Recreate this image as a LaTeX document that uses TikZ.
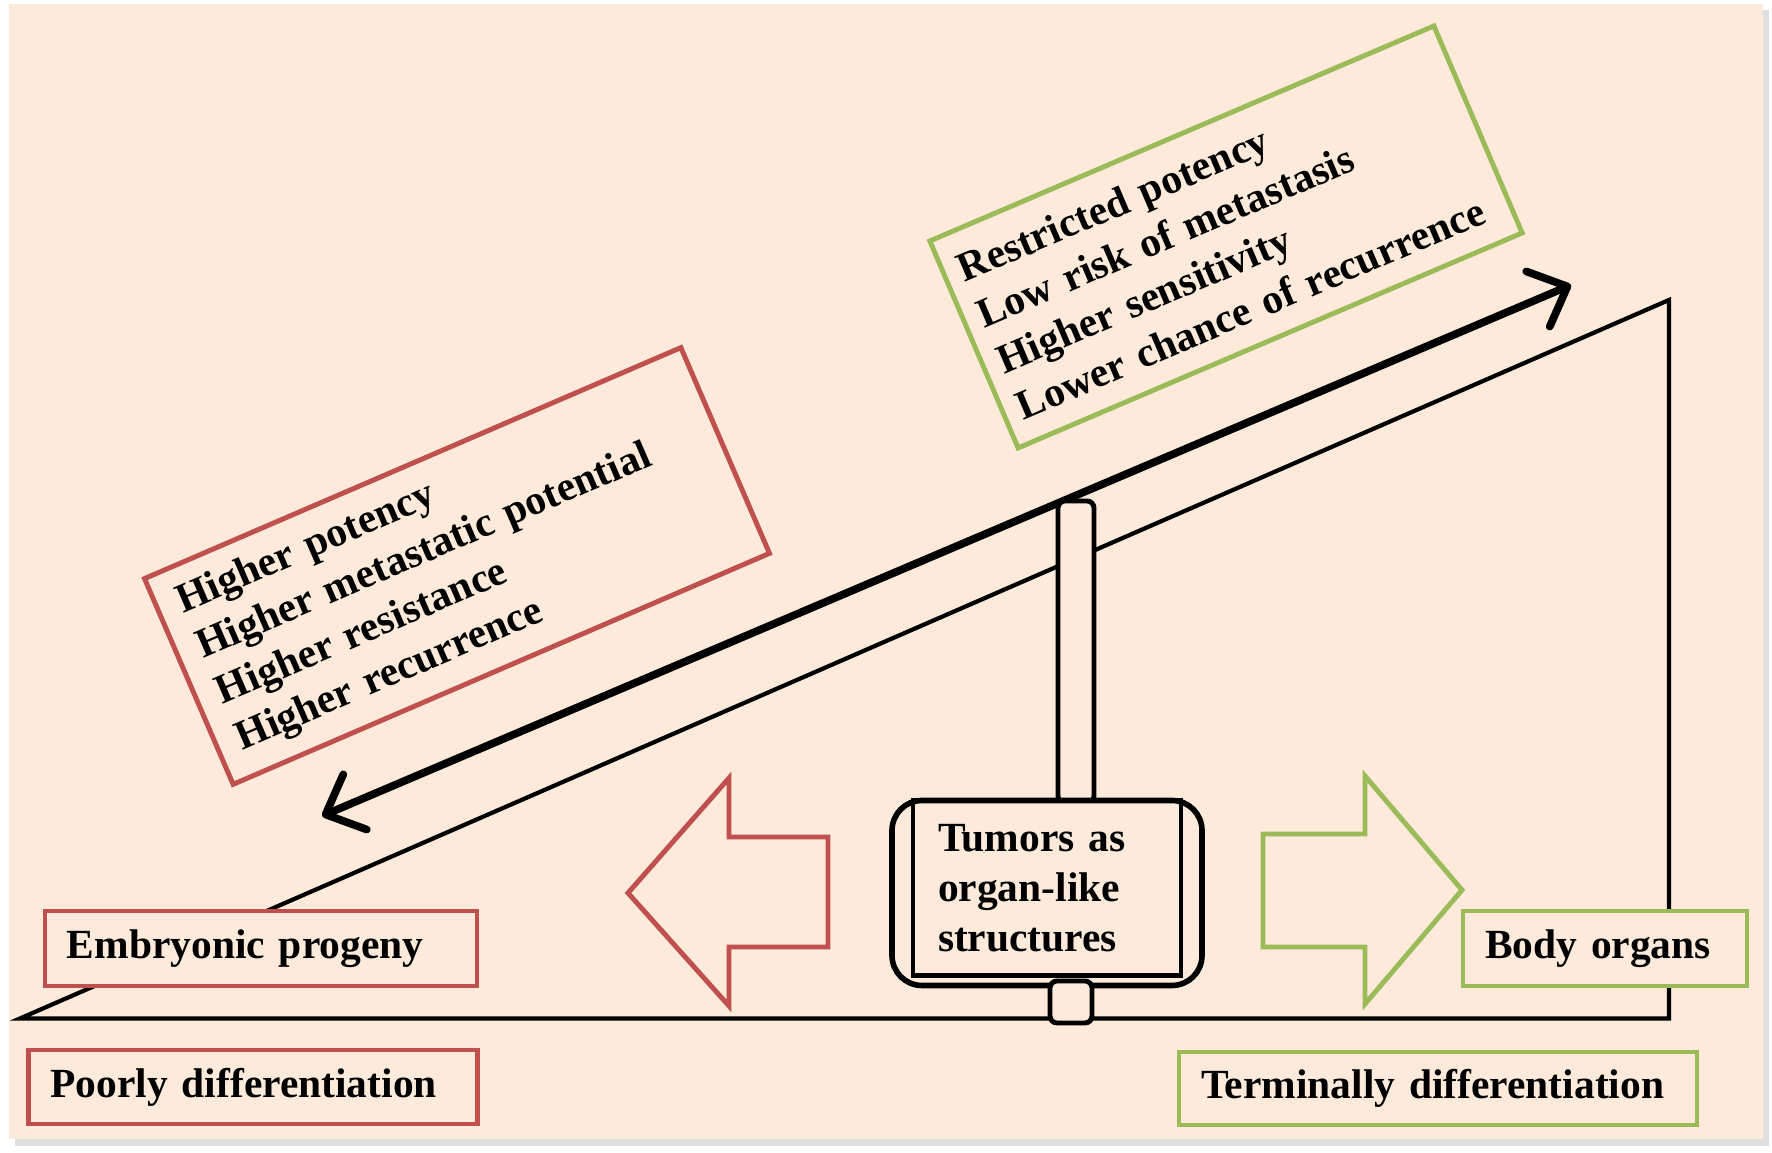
\documentclass[tikz,border=0pt]{standalone}
\usepackage{fontspec}
\setmainfont{Liberation Serif}
\usepackage{xcolor}
\usetikzlibrary{arrows.meta}
\definecolor{peach}{RGB}{253,234,218}
\definecolor{boxred}{RGB}{192,80,77}
\definecolor{boxgreen}{RGB}{155,187,89}

\begin{document}
\begin{tikzpicture}
\tikzstyle{every node}=[font=\fontsize{11.8}{14.2}\selectfont\bfseries]
\tikzstyle{redbox}=[draw=boxred,line width=1.4pt,fill=peach,align=left,inner xsep=0.22cm]
\tikzstyle{greenbox}=[draw=boxgreen,line width=1.4pt,fill=peach,align=left,inner xsep=0.22cm]
\tikzstyle{part}=[draw,line width=1.4pt,fill=peach]
\useasboundingbox (0,0) rectangle (17.72,11.53);
\fill[white] (0,0) rectangle (17.72,11.53);
\fill[gray!25] (0.15,0.07) rectangle (17.69,11.43);
\fill[peach] (0.09,0.14) rectangle (17.63,11.49);

% ramp
\coordinate (p0) at (0.20,1.345);
\coordinate (p1) at (16.69,1.345);
\coordinate (p2) at (16.69,8.53);
\draw[line width=1.2pt] (p0) -- (p1) -- (p2) -- cycle;

\coordinate (lo) at (3.22,3.37);
\coordinate (hi) at (15.71,8.68);
\path [draw,line width=2.2pt,{Straight Barb[length=3.2mm,width=6mm,round]}-{Straight Barb[length=3.2mm,width=6mm,round]}] (lo) -- (hi);

\node (risk) at (4.57,5.87) [redbox,rotate=23.3,text width=5.40cm,minimum height=2.24cm] {Higher potency\\Higher metastatic potential\\Higher resistance\\Higher recurrence};
\node (benign) at (12.26,9.16) [greenbox,rotate=23.1,inner xsep=0.16cm,text width=5.16cm,minimum height=2.25cm] {Restricted potency\\Low risk of metastasis\\Higher sensitivity\\Lower chance of recurrence};

\node (embryo) at (2.61,2.045) [redbox,text width=3.88cm,minimum height=0.75cm] {Embryonic progeny};
\node (poor) at (2.53,0.66) [redbox,text width=4.05cm,minimum height=0.74cm] {Poorly differentiation};
\node (organs) at (16.05,2.045) [greenbox,text width=2.40cm,minimum height=0.75cm] {Body organs};
\node (terminal) at (14.38,0.645) [greenbox,text width=4.74cm,minimum height=0.73cm] {Terminally differentiation};

% sign post
\node (pole) at (10.76,5.01) [part,rounded corners=2pt,minimum width=0.36cm,minimum height=3.02cm] {};
\node (sign) at (10.47,2.60) [part,line width=1.6pt,rounded corners=0.3cm,minimum width=3.10cm,minimum height=1.85cm] {};
\node (board) at (10.47,2.65) [draw,line width=1.4pt,align=left,text width=2.18cm,inner xsep=0.25cm,minimum height=1.75cm] {Tumors as\\organ-like\\structures};
\node (foot) at (10.71,1.51) [part,rounded corners=2pt,minimum size=0.42cm] {};

% block arrows
\draw[boxred,line width=1.4pt] (6.28,2.60) -- (7.29,3.75) -- (7.29,3.16) -- (8.28,3.16) -- (8.28,2.06) -- (7.29,2.06) -- (7.29,1.47) -- cycle;
\draw[boxgreen,line width=1.4pt] (14.62,2.63) -- (13.65,3.77) -- (13.65,3.19) -- (12.63,3.19) -- (12.63,2.06) -- (13.65,2.06) -- (13.65,1.49) -- cycle;

\end{tikzpicture}
\end{document}
